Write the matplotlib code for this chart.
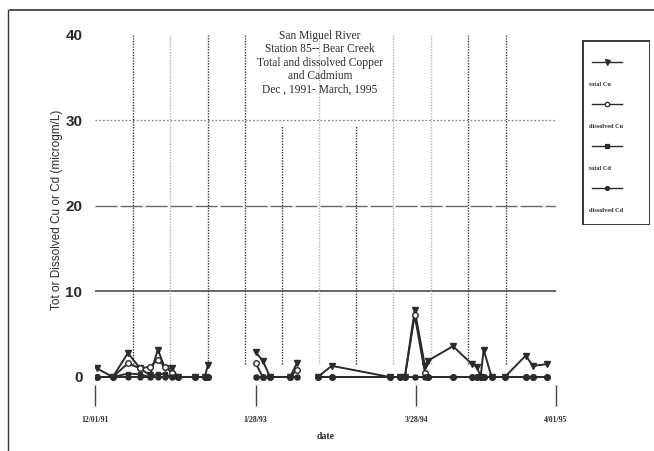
import numpy as np
import pandas as pd
import matplotlib
matplotlib.use("Agg")
import matplotlib.pyplot as plt
from matplotlib.lines import Line2D
from matplotlib.patches import Rectangle

# sample dates; NaN values mark the breaks between sampling periods
dates = pd.to_datetime([
    "1991-12-06", "1992-01-17", "1992-02-26", "1992-03-29", "1992-04-24",
    "1992-05-15", "1992-06-03", "1992-06-21", "1992-07-07", "1992-08-21",
    "1992-09-16", "1992-09-24", "1992-11-15",
    "1993-01-28", "1993-02-16", "1993-03-07", "1993-04-29", "1993-05-17",
    "1993-06-15",
    "1993-07-11", "1993-08-17", "1994-01-17", "1994-02-14",
    "1994-02-26", "1994-03-24", "1994-04-20", "1994-04-28", "1994-07-03",
    "1994-08-22", "1994-09-04", "1994-09-14", "1994-09-22", "1994-10-13",
    "1994-11-17", "1995-01-11", "1995-01-30", "1995-03-08",
])
nan = np.nan
total_cu = [1.0, 0.0, 2.8, 1.0, 0.2, 3.2, 1.0, 1.0, 0.0, 0.0, 0.0, 1.4, nan,
            2.9, 1.9, 0.0, 0.0, 1.6, nan,
            0.0, 1.3, 0.0, 0.0, 0.0, 7.8, 1.3, 1.9, 3.6,
            1.5, 1.2, 0.0, 3.2, 0.0, 0.0, 2.5, 1.3, 1.5]
diss_cu = [0.0, 0.0, 1.6, 1.0, 1.2, 2.0, 1.2, 0.5, 0.0, 0.0, 0.0, 0.0, nan,
           1.6, 0.0, 0.0, 0.0, 0.8, nan,
           0.0, 0.0, 0.0, 0.0, 0.0, 7.2, 0.5, 0.0, 0.0,
           0.0, 0.0, 0.0, 0.0, 0.0, 0.0, 0.0, 0.0, 0.0]
total_cd = [0.0, 0.0, 0.4, 0.3, 0.0, 0.4, 0.3, 0.0, 0.0, 0.0, 0.0, 0.0, nan,
            0.0, 0.0, 0.0, 0.0, 0.0, nan,
            0.0, 0.0, 0.0, 0.0, 0.0, 0.0, 0.0, 0.0, 0.0,
            0.0, 0.0, 0.0, 0.0, 0.0, 0.0, 0.0, 0.0, 0.0]
diss_cd = [0.0, 0.0, 0.0, 0.0, 0.0, 0.0, 0.0, 0.0, 0.0, 0.0, 0.0, 0.0, nan,
           0.0, 0.0, 0.0, 0.0, 0.0, nan,
           0.0, 0.0, 0.0, 0.0, 0.0, 0.0, 0.0, 0.0, 0.0,
           0.0, 0.0, 0.0, 0.0, 0.0, 0.0, 0.0, 0.0, 0.0]

series_names = ["total Cu", "dissolved Cu", "total Cd", "dissolved Cd"]
series_values = [total_cu, diss_cu, total_cd, diss_cd]

x_ticks = pd.to_datetime(["1991-12-01", "1993-01-28", "1994-03-28", "1995-04-01"])
x_tick_labels = ["12/01/91", "1/28/93", "3/28/94", "4/01/95"]
y_ticks = [0, 10, 20, 30, 40]

title = ("San Miguel River\nStation 85-- Bear Creek\nTotal and dissolved Copper\n"
         "and Cadmium\nDec , 1991- March, 1995")

ink = "#2b2b2b"
styles = [
    dict(marker="v", ms=4.5, mfc=ink),
    dict(marker="o", ms=4, mfc="white"),
    dict(marker="s", ms=3.5, mfc=ink),
    dict(marker="o", ms=3.5, mfc=ink),
]

fig = plt.figure(figsize=(6.54, 4.51), dpi=100)
ax = fig.add_axes([95 / 654, 1 - 385 / 451, 461 / 654, 350 / 451])

x0 = pd.Timestamp("1991-12-01")
x1 = pd.Timestamp("1995-04-01")
ax.set_xlim(x0, x1)
ax.set_ylim(-0.94, 40)

# horizontal grid
ax.axhline(10, color="#3a3a3a", lw=1.1, zorder=1)
ax.axhline(20, color="#6a6a6a", lw=1.0, ls=(0, (16, 2)), zorder=1)
ax.axhline(30, color="#8a8a8a", lw=0.9, ls=(0, (1.5, 1.5)), zorder=1)

# vertical grid (days after 12/01/91, darkness, top in data units)
grid_days = [100, 198, 298, 396, 493, 591, 689, 787, 888, 985, 1085]
grid_dark = [1, 0, 1, 1, 1, 0, 1, 0, 0, 1, 1]
grid_top = [40, 40, 40, 40, 29.5, 40, 29.5, 40, 40, 40, 40]
for d, dark, top in zip(grid_days, grid_dark, grid_top):
    ax.vlines(x0 + pd.Timedelta(days=d), 1.5, top,
              color="#3a3a3a" if dark else "#b5b5b5",
              lw=1.0, ls=(0, (1, 1)), zorder=1)

for vals, st in zip(series_values, styles):
    ax.plot(dates, vals, color=ink, lw=1.4, mec=ink, mew=1.0, zorder=3, **st)

for s in ax.spines.values():
    s.set_visible(False)

ax.set_yticks(y_ticks)
ax.set_yticklabels([str(v) for v in y_ticks], fontfamily="Liberation Sans",
                   fontweight="bold", fontsize=11, color=ink)
ax.tick_params(axis="y", length=0, pad=9)
ax.set_xticks(x_ticks)
ax.set_xticklabels(x_tick_labels, fontfamily="Liberation Serif",
                   fontweight="bold", fontsize=5.5, color=ink)
ax.tick_params(axis="x", direction="out", length=15, width=1.0, color="#444444", pad=7)

ax.set_ylabel("Tot or Dissolved Cu or Cd (microgm/L)", fontfamily="Liberation Sans",
              fontsize=8.5, color=ink, labelpad=2)
ax.set_xlabel("date", fontfamily="Liberation Serif", fontweight="bold",
              fontsize=7, color=ink, labelpad=6)

fig.text(320 / 654, 1 - 30 / 451, title, ha="center", va="top", linespacing=1.15,
         fontfamily="Liberation Serif", fontsize=8.3, color=ink)

# legend box: handle above label
lax = fig.add_axes([582 / 654, 1 - 225 / 451, 68 / 654, 185 / 451])
lax.set_xlim(0, 68)
lax.set_ylim(185, 0)
lax.axis("off")
lax.add_patch(Rectangle((0.5, 0.5), 67, 184, fill=False, ec=ink, lw=1.3))
for i, (name, st) in enumerate(zip(series_names, styles)):
    yl = 22 + i * 42
    lax.plot([10, 25, 40], [yl, yl, yl], color=ink, lw=1.0, mec=ink, mew=0.9,
             markevery=[1], marker=st["marker"], ms=st["ms"] * 0.8, mfc=st["mfc"])
    lax.text(7, yl + 23, name, ha="left", va="center", fontfamily="Liberation Serif",
             fontweight="bold", fontsize=4.5, color=ink)

# page border from the scan
fig.add_artist(Line2D([10 / 654, 1], [1 - 10 / 451, 1 - 10 / 451], color="#333333", lw=1.2))
fig.add_artist(Line2D([8 / 654, 8 / 654], [0, 1 - 10 / 451], color="#333333", lw=1.0))

fig.savefig("out.png", dpi=100, facecolor="white")
